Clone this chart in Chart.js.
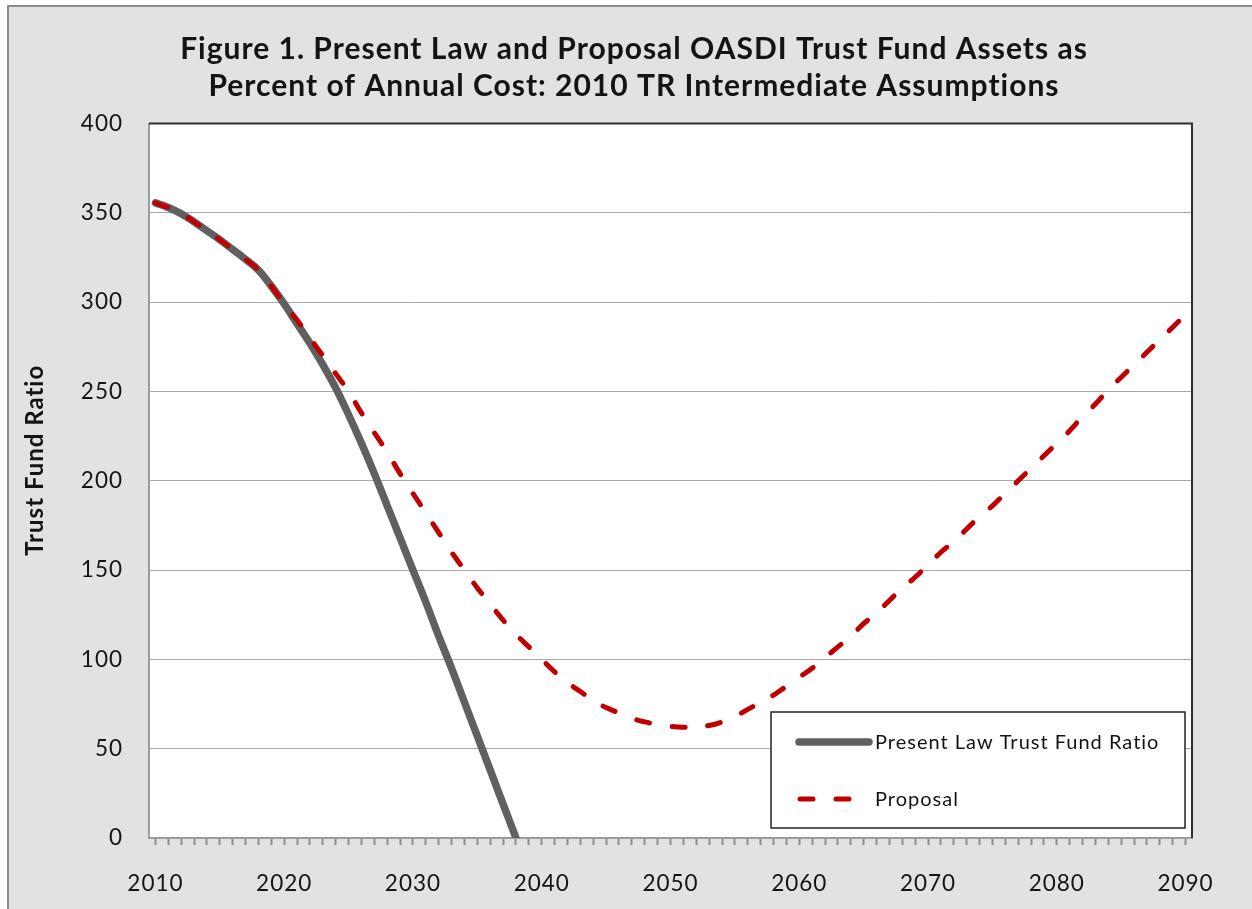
<!DOCTYPE html>
<html>
<head>
<meta charset="utf-8">
<title>Trust Fund Ratio</title>
<script src="https://cdn.jsdelivr.net/npm/chart.js@4.4.0/dist/chart.umd.min.js"></script>
<style>
  html, body { margin: 0; padding: 0; background: #fff; overflow: hidden; }
  #frame { position: absolute; left: 7px; top: 5px; width: 1270px; height: 930px; background: #e2e2e2; border: 2px solid #8c8c8c; }
  #wrap { position: absolute; left: 0; top: 0; width: 1252px; height: 909px; }
</style>
</head>
<body>
<div id="frame"></div>
<div id="wrap"><canvas id="chart" width="1252" height="909"></canvas></div>
<script>
// years on the category axis
const years = [
  2010, 2011, 2012, 2013, 2014, 2015, 2016, 2017, 2018, 2019,
  2020, 2021, 2022, 2023, 2024, 2025, 2026, 2027, 2028, 2029,
  2030, 2031, 2032, 2033, 2034, 2035, 2036, 2037, 2038, 2039,
  2040, 2041, 2042, 2043, 2044, 2045, 2046, 2047, 2048, 2049,
  2050, 2051, 2052, 2053, 2054, 2055, 2056, 2057, 2058, 2059,
  2060, 2061, 2062, 2063, 2064, 2065, 2066, 2067, 2068, 2069,
  2070, 2071, 2072, 2073, 2074, 2075, 2076, 2077, 2078, 2079,
  2080, 2081, 2082, 2083, 2084, 2085, 2086, 2087, 2088, 2089,
  2090
];

// present law runs out in 2038
const presentLaw = [
  355.6, 353, 349.5, 345, 340, 335, 329.5, 324, 318, 309,
  299, 288, 277, 265, 252, 237, 221, 204, 186, 168,
  150, 132, 113, 95, 76, 57, 38, 19, 0
];

const proposal = [
  355.6, 353, 349.5, 345, 340, 335, 329.5, 324, 318, 309,
  299, 290, 280, 270, 260, 250, 238, 227, 216, 204,
  193, 182, 171, 160, 150, 140, 131, 122, 114, 107,
  100, 93, 87, 82, 77, 73, 70, 67, 65, 63.5,
  62.5, 62, 62, 63, 65, 68, 72, 76, 80, 85,
  90, 95, 101, 107, 113, 120, 126, 133, 140, 146,
  153, 160, 166, 173, 180, 186, 193, 200, 207, 214,
  221, 228, 236, 243, 251, 258, 265, 272, 279, 286,
  293
];

const yTicks = [0, 50, 100, 150, 200, 250, 300, 350, 400];

const titleLines = [
  'Figure 1. Present Law and Proposal OASDI Trust Fund Assets as',
  'Percent of Annual Cost: 2010 TR Intermediate Assumptions'
];

const FONT = 'Lato, Carlito, Calibri, sans-serif';
const INK = '#141414';

// slightly wider lettering, closer to the original face
const spacing = {
  id: 'spacing',
  beforeUpdate(chart) { chart.ctx.letterSpacing = '1px'; },
  beforeDraw(chart) { chart.ctx.letterSpacing = '1px'; }
};

// white plot area, dark top/right frame
const plotFrame = {
  id: 'plotFrame',
  beforeDraw(chart) {
    const a = chart.chartArea, ctx = chart.ctx;
    ctx.save();
    ctx.fillStyle = '#fff';
    ctx.fillRect(a.left, a.top, a.right - a.left, a.bottom - a.top);
    ctx.restore();
  },
  afterDatasetsDraw(chart) {
    const a = chart.chartArea, ctx = chart.ctx;
    ctx.save();
    ctx.strokeStyle = '#2e2e2e';
    ctx.lineWidth = 2;
    ctx.beginPath();
    ctx.moveTo(a.left, a.top);
    ctx.lineTo(a.right, a.top);
    ctx.lineTo(a.right, a.bottom);
    ctx.stroke();
    ctx.restore();
  }
};

// legend box sitting inside the plot, bottom right
const boxLegend = {
  id: 'boxLegend',
  afterDraw(chart) {
    const a = chart.chartArea, ctx = chart.ctx;
    const w = 414, h = 116;
    const x = a.right - 7 - w, y = a.bottom - 10 - h;
    ctx.save();
    ctx.fillStyle = '#fff';
    ctx.fillRect(x, y, w, h);
    ctx.strokeStyle = '#222';
    ctx.lineWidth = 1.5;
    ctx.strokeRect(x, y, w, h);

    const rows = [y + 30, y + 87];
    chart.data.datasets.forEach((ds, i) => {
      const ry = rows[i];
      ctx.beginPath();
      ctx.strokeStyle = ds.borderColor;
      ctx.lineWidth = ds.borderWidth;
      ctx.lineCap = 'round';
      ctx.setLineDash(ds.borderDash || []);
      if (ds.borderDash) {
        ctx.moveTo(x + 29, ry);
        ctx.lineTo(x + 82, ry);
      } else {
        ctx.moveTo(x + 28, ry);
        ctx.lineTo(x + 98, ry);
      }
      ctx.stroke();
      ctx.setLineDash([]);
      ctx.fillStyle = INK;
      ctx.font = '20px ' + FONT;
      ctx.textBaseline = 'middle';
      ctx.textAlign = 'left';
      ctx.fillText(ds.label, x + 104, ry + 1);
    });
    ctx.restore();
  }
};

new Chart(document.getElementById('chart'), {
  type: 'line',
  data: {
    labels: years,
    datasets: [
      {
        label: 'Present Law Trust Fund Ratio',
        data: presentLaw,
        borderColor: '#606060',
        borderWidth: 7.5,
        borderCapStyle: 'round',
        borderJoinStyle: 'round',
        pointRadius: 0,
        tension: 0.4,
        clip: { left: 8, right: 8, top: 8, bottom: 0 },
        order: 2
      },
      {
        label: 'Proposal',
        data: proposal,
        borderColor: '#c00000',
        borderWidth: 5,
        borderDash: [13, 23],
        borderCapStyle: 'round',
        pointRadius: 0,
        tension: 0.4,
        clip: { left: 8, right: 8, top: 8, bottom: 0 },
        order: 1
      }
    ]
  },
  options: {
    responsive: false,
    animation: false,
    layout: { padding: { left: 16, right: 0, top: 0, bottom: 0 } },
    plugins: {
      legend: { display: false },
      tooltip: { enabled: false },
      title: {
        display: true,
        text: titleLines,
        color: INK,
        font: { family: FONT, size: 30, weight: 'bold', lineHeight: 1.26 },
        padding: { top: 30, bottom: 18 }
      }
    },
    scales: {
      x: {
        type: 'category',
        offset: true,
        grid: {
          offset: false,
          drawOnChartArea: false,
          drawTicks: true,
          tickLength: 7,
          tickWidth: 2,
          tickColor: '#8e8e8e'
        },
        border: { color: '#9c9c9c', width: 2 },
        ticks: {
          autoSkip: false,
          maxRotation: 0,
          padding: 25,
          color: INK,
          font: { family: FONT, size: 22.5 },
          callback(value) {
            const yr = this.getLabelForValue(value);
            return yr % 10 === 0 ? String(yr) : '';
          }
        },
        afterFit(s) { s.height = 71; }
      },
      y: {
        min: 0,
        max: 400,
        afterBuildTicks(s) { s.ticks = yTicks.map(v => ({ value: v })); },
        grid: { color: '#a8a8a8', lineWidth: 1, drawTicks: false },
        border: { color: '#9c9c9c', width: 2 },
        ticks: {
          padding: 26,
          color: INK,
          font: { family: FONT, size: 22.5 }
        },
        title: {
          display: true,
          text: '      Trust Fund Ratio',
          color: INK,
          font: { family: FONT, size: 24, weight: 'bold' },
          padding: { top: 4.6, bottom: 0 }
        },
        afterFit(s) { s.width = 133; }
      },
      yRight: {
        position: 'right',
        display: true,
        grid: { display: false, drawTicks: false },
        border: { display: false },
        ticks: { display: false },
        afterFit(s) { s.width = 60; }
      }
    }
  },
  plugins: [spacing, plotFrame, boxLegend]
});
</script>
</body>
</html>
